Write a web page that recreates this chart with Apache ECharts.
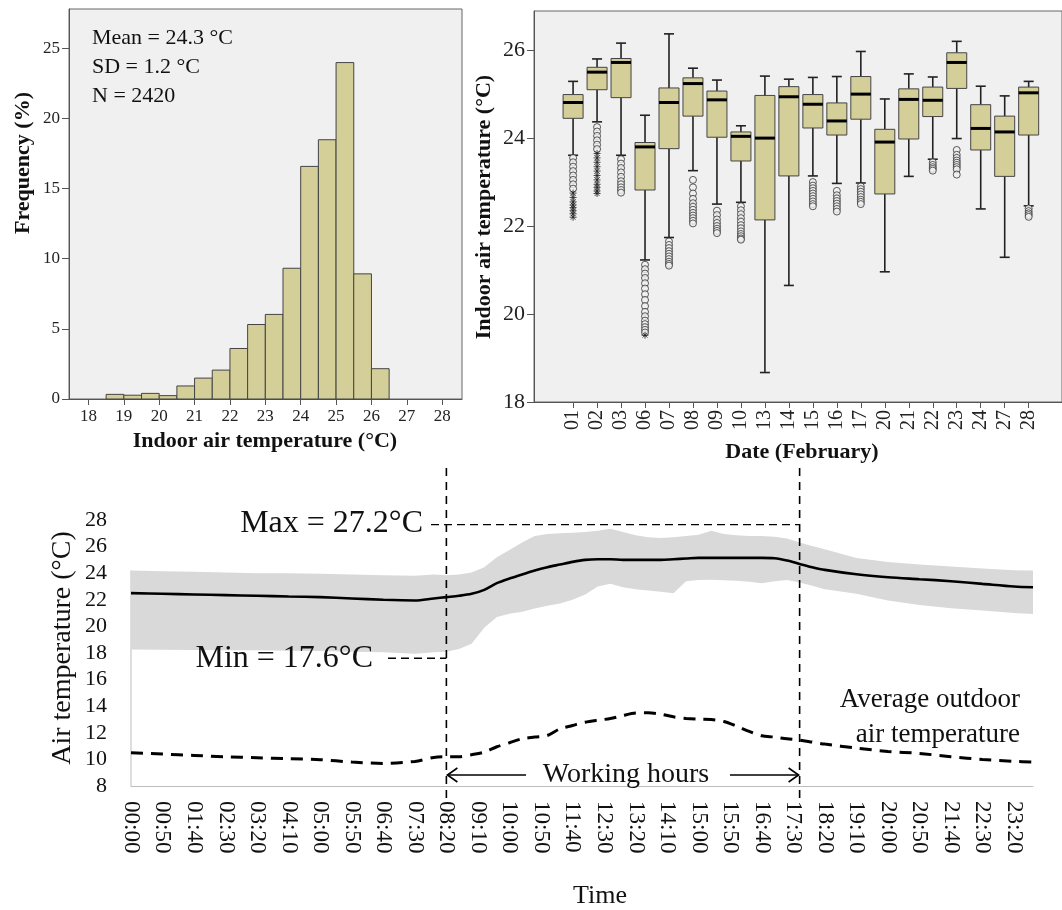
<!DOCTYPE html>
<html>
<head>
<meta charset="utf-8">
<title>Indoor air temperature</title>
<script src="https://cdn.jsdelivr.net/npm/echarts@6/dist/echarts.min.js"></script>
<style>
  html, body { margin: 0; padding: 0; background: #fff; }
  #main { width: 1062px; height: 910px; }
</style>
</head>
<body>
<div id="main"></div>
<script>
var serif = "'Liberation Serif', 'Times New Roman', serif";
var tan = '#d4cf98';

// histogram (% of readings per 0.5 °C bin)
var binStart = [18.5, 19, 19.5, 20, 20.5, 21, 21.5, 22, 22.5, 23, 23.5, 24, 24.5, 25, 25.5, 26];
var binFreq = [0.33, 0.27, 0.4, 0.24, 0.93, 1.49, 2.06, 3.6, 5.31, 6.03, 9.32, 16.58, 18.48, 23.98, 8.92, 2.16];
var binWidth = 0.5;
var histTicks = [18, 19, 20, 21, 22, 23, 24, 25, 26, 27, 28];
var freqTicks = [0, 5, 10, 15, 20, 25];

// box plot per day
var dates = ['01', '02', '03', '06', '07', '08', '09', '10', '13', '14', '15', '16', '17', '20', '21', '22', '23', '24', '27', '28'];
var whiskLow = [23.61, 24.37, 23.61, 21.23, 21.74, 23.26, 22.5, 22.54, 18.67, 20.65, 23.14, 22.97, 22.98, 20.96, 23.13, 23.52, 23.99, 22.39, 21.29, 22.46];
var q1 = [24.45, 25.1, 24.92, 22.82, 23.76, 24.5, 24.02, 23.48, 22.14, 23.14, 24.23, 24.07, 24.43, 22.73, 23.98, 24.49, 25.13, 23.73, 23.13, 24.07];
var median = [24.81, 25.5, 25.72, 23.8, 24.81, 25.24, 24.87, 24.04, 24.0, 24.94, 24.77, 24.39, 25.0, 23.91, 24.88, 24.86, 25.72, 24.22, 24.14, 25.03];
var q3 = [24.99, 25.61, 25.81, 23.9, 25.14, 25.37, 25.07, 24.14, 24.97, 25.17, 24.99, 24.8, 25.4, 24.2, 25.12, 25.16, 25.94, 24.76, 24.5, 25.16];
var whiskHigh = [25.29, 25.8, 26.16, 24.52, 26.37, 25.59, 25.32, 24.28, 25.41, 25.34, 25.38, 25.4, 25.97, 24.89, 25.46, 25.39, 26.2, 25.18, 24.96, 25.29];
var outliers = [
  [23.55, 23.45, 23.35, 23.25, 23.15, 23.05, 22.95, 22.85],
  [24.25, 24.15, 24.05, 23.95, 23.85, 23.75],
  [23.52, 23.42, 23.32, 23.22, 23.12, 23.02, 22.95, 22.88, 22.82, 22.76],
  [21.12, 21.02, 20.92, 20.82, 20.7, 20.58, 20.45, 20.32, 20.18, 20.05, 19.95, 19.85, 19.77, 19.7, 19.64, 19.58],
  [21.65, 21.57, 21.5, 21.43, 21.37, 21.31, 21.25, 21.19, 21.14, 21.1],
  [23.05, 22.88, 22.74, 22.62, 22.52, 22.44, 22.37, 22.3, 22.24, 22.18, 22.12, 22.06],
  [22.35, 22.25, 22.15, 22.07, 22.0, 21.94, 21.89, 21.84],
  [22.45, 22.36, 22.27, 22.18, 22.1, 22.02, 21.95, 21.88, 21.82, 21.77, 21.72, 21.69],
  [],
  [],
  [23.0, 22.92, 22.86, 22.8, 22.74, 22.68, 22.62, 22.56, 22.5, 22.45],
  [22.8, 22.7, 22.63, 22.57, 22.51, 22.45, 22.39, 22.33],
  [22.9, 22.84, 22.78, 22.72, 22.66, 22.6, 22.55, 22.5],
  [],
  [],
  [23.45, 23.39, 23.34, 23.3, 23.26],
  [23.73, 23.62, 23.55, 23.49, 23.44, 23.39, 23.34, 23.29, 23.17],
  [],
  [],
  [22.4, 22.34, 22.29, 22.25, 22.21]
];
var extremes = [
  [22.75, 22.65, 22.55, 22.48, 22.42, 22.35, 22.28, 22.2],
  [23.65, 23.55, 23.45, 23.35, 23.25, 23.15, 23.05, 22.95, 22.88, 22.8, 22.74],
  [], [19.52], [], [], [], [], [], [], [], [], [], [], [], [], [], [], [], []
];
var boxTicks = [18, 20, 22, 24, 26];
var dayTicks = dates.map(function (d, i) { return i; });

// daily profile, 10-minute steps
var times = [];
for (var m = 0; m < 24 * 60; m += 10) {
  var hh = Math.floor(m / 60), mm = m % 60;
  times.push((hh < 10 ? '0' : '') + hh + ':' + (mm < 10 ? '0' : '') + mm);
}
var sampleSteps = [0, 5, 10, 15, 20, 25, 30, 35, 40, 45, 48,
  50, 52, 54, 56, 58, 60, 62, 64, 66, 68, 70, 72, 74, 76, 78, 80, 82, 84, 86, 88,
  90, 92, 94, 96, 98, 100, 102, 104, 106, 108, 110,
  115, 120, 125, 130, 135, 140, 143];
var meanT = [22.5, 22.45, 22.4, 22.35, 22.3, 22.25, 22.2, 22.1, 22.0, 21.95, 22.1,
  22.2, 22.3, 22.45, 22.75, 23.25, 23.6, 23.9, 24.2, 24.45, 24.65, 24.85, 25.0, 25.05, 25.05, 25.0, 25.0, 25.0, 25.0, 25.05, 25.1,
  25.15, 25.15, 25.15, 25.15, 25.15, 25.15, 25.12, 24.95, 24.7, 24.45, 24.25,
  23.92, 23.7, 23.55, 23.4, 23.2, 23.0, 22.94];
var upperT = [24.2, 24.15, 24.1, 24.05, 24.0, 24.0, 23.95, 23.9, 23.85, 23.8, 23.9,
  23.85, 23.9, 24.05, 24.45, 25.2, 25.75, 26.3, 26.8, 26.95, 27.0, 27.05, 27.1, 27.2, 27.35, 27.1, 26.85, 26.7, 26.65, 26.7, 26.8,
  26.9, 27.2, 26.95, 26.85, 26.8, 26.8, 26.75, 26.6, 26.3, 26.05, 25.8,
  25.15, 24.85, 24.65, 24.5, 24.35, 24.22, 24.2];
var lowerT = [18.27, 18.25, 18.22, 18.2, 18.2, 18.17, 18.15, 18.1, 18.05, 17.95, 18.05,
  18.1, 18.3, 18.7, 19.9, 20.7, 20.95, 21.1, 21.35, 21.55, 21.73, 22.0, 22.4, 23.0, 23.2, 22.95, 22.8, 22.7, 22.6, 22.5, 23.4,
  23.48, 23.5, 23.47, 23.44, 23.35, 23.24, 23.4, 23.48, 23.3, 23.05, 22.8,
  22.45, 21.95, 21.6, 21.36, 21.2, 21.0, 20.93];
var outdoorT = [10.5, 10.4, 10.3, 10.2, 10.12, 10.05, 9.98, 9.8, 9.7, 9.85, 10.15,
  10.2, 10.2, 10.35, 10.55, 10.95, 11.25, 11.55, 11.68, 11.8, 12.3, 12.55, 12.8, 12.95, 13.07, 13.3, 13.48, 13.5, 13.4, 13.2, 13.08,
  13.02, 13.0, 12.85, 12.5, 12.1, 11.78, 11.68, 11.55, 11.45, 11.3, 11.15,
  10.85, 10.6, 10.45, 10.2, 10.0, 9.85, 9.8];
var workStart = '08:20', workEnd = '17:40';
var maxLineAt = 27.65, minLineAt = 17.6;

function pairs(vals) {
  return sampleSteps.map(function (s, i) { return [times[s], vals[i]]; });
}

function renderBin(params, api) {
  var p0 = api.coord([api.value(0), api.value(2)]);
  var p1 = api.coord([api.value(1), 0]);
  return {
    type: 'rect',
    shape: { x: p0[0], y: p0[1], width: p1[0] - p0[0], height: p1[1] - p0[1] },
    style: { fill: tan, stroke: '#444', lineWidth: 1 }
  };
}

function renderBox(params, api) {
  var i = api.value(0);
  var lo = api.coord([i, api.value(1)]);
  var b1 = api.coord([i, api.value(2)]);
  var md = api.coord([i, api.value(3)]);
  var b3 = api.coord([i, api.value(4)]);
  var hi = api.coord([i, api.value(5)]);
  var x = lo[0], hw = 10, cw = 5;
  var st = { stroke: '#222', lineWidth: 1.6 };
  return {
    type: 'group',
    children: [
      { type: 'line', shape: { x1: x, y1: hi[1], x2: x, y2: b3[1] }, style: st },
      { type: 'line', shape: { x1: x, y1: b1[1], x2: x, y2: lo[1] }, style: st },
      { type: 'line', shape: { x1: x - cw, y1: hi[1], x2: x + cw, y2: hi[1] }, style: st },
      { type: 'line', shape: { x1: x - cw, y1: lo[1], x2: x + cw, y2: lo[1] }, style: st },
      { type: 'rect', shape: { x: x - hw, y: b3[1], width: hw * 2, height: b1[1] - b3[1] }, style: { fill: tan, stroke: '#444', lineWidth: 1 } },
      { type: 'line', shape: { x1: x - hw, y1: md[1], x2: x + hw, y2: md[1] }, style: { stroke: '#000', lineWidth: 3 } }
    ]
  };
}

function flat(list) {
  var out = [];
  list.forEach(function (vals, i) { vals.forEach(function (v) { out.push([i, v]); }); });
  return out;
}

var axisGrey = { color: '#555', width: 1 };

var option = {
  animation: false,
  backgroundColor: '#fff',
  textStyle: { fontFamily: serif },
  grid: [
    { left: 69, top: 9, width: 393, height: 390, show: true, backgroundColor: '#f0f0f0', borderColor: '#666', borderWidth: 1 },
    { left: 534, top: 11, width: 530, height: 391, show: true, backgroundColor: '#f0f0f0', borderColor: '#666', borderWidth: 1 },
    { left: 131, top: 520, width: 902, height: 266 }
  ],
  xAxis: [
    {
      gridIndex: 0, type: 'value', min: 17.45, max: 28.56,
      axisLine: { show: true, onZero: false, lineStyle: axisGrey },
      axisTick: { show: true, customValues: histTicks, length: 6, lineStyle: axisGrey },
      axisLabel: { customValues: histTicks, fontFamily: serif, fontSize: 17, color: '#222', margin: 9 },
      splitLine: { show: false }
    },
    {
      gridIndex: 1, type: 'value', min: -1.63, max: 20.39,
      axisLine: { show: true, onZero: false, lineStyle: axisGrey },
      axisTick: { show: true, customValues: dayTicks, length: 6, lineStyle: axisGrey },
      axisLabel: {
        customValues: dayTicks, rotate: 90, fontFamily: serif, fontSize: 20, color: '#222', margin: 8,
        formatter: function (v) { return dates[Math.round(v)]; }
      },
      splitLine: { show: false }
    },
    {
      gridIndex: 2, type: 'category', data: times, boundaryGap: false,
      axisLine: { show: true, onZero: false, lineStyle: { color: '#bdbdbd', width: 1 } },
      axisTick: { show: false },
      axisLabel: { interval: 4, rotate: -90, fontFamily: serif, fontSize: 23, color: '#111', margin: 15 },
      splitLine: { show: false }
    }
  ],
  yAxis: [
    {
      gridIndex: 0, type: 'value', min: 0, max: 27.8,
      axisLine: { show: true, onZero: false, lineStyle: axisGrey },
      axisTick: { show: true, customValues: freqTicks, length: 7, lineStyle: axisGrey },
      axisLabel: { customValues: freqTicks, fontFamily: serif, fontSize: 17, color: '#222', margin: 9 },
      splitLine: { show: false }
    },
    {
      gridIndex: 1, type: 'value', min: 18, max: 26.89,
      axisLine: { show: true, onZero: false, lineStyle: axisGrey },
      axisTick: { show: true, customValues: boxTicks, length: 7, lineStyle: axisGrey },
      axisLabel: { customValues: boxTicks, fontFamily: serif, fontSize: 22, color: '#222', margin: 9 },
      splitLine: { show: false }
    },
    {
      gridIndex: 2, type: 'value', min: 8, max: 28, interval: 2,
      axisLine: { show: false },
      axisTick: { show: false },
      axisLabel: { fontFamily: serif, fontSize: 22, color: '#111', margin: 24 },
      splitLine: { show: false }
    }
  ],
  series: [
    {
      name: 'histogram', type: 'custom', xAxisIndex: 0, yAxisIndex: 0,
      renderItem: renderBin, encode: { x: [0, 1], y: 2 },
      data: binStart.map(function (s, i) { return [s, s + binWidth, binFreq[i]]; })
    },
    {
      name: 'daily box', type: 'custom', xAxisIndex: 1, yAxisIndex: 1,
      renderItem: renderBox, encode: { x: 0, y: [1, 2, 3, 4, 5] },
      data: dates.map(function (d, i) { return [i, whiskLow[i], q1[i], median[i], q3[i], whiskHigh[i]]; })
    },
    {
      name: 'outliers', type: 'scatter', xAxisIndex: 1, yAxisIndex: 1, z: 4,
      symbol: 'circle', symbolSize: 7,
      itemStyle: { color: '#f0f0f0', borderColor: '#333', borderWidth: 1 },
      data: flat(outliers)
    },
    {
      name: 'extremes', type: 'scatter', xAxisIndex: 1, yAxisIndex: 1, z: 4,
      symbol: 'path://M5,0L5,10M0,5L10,5M1.5,1.5L8.5,8.5M8.5,1.5L1.5,8.5', symbolSize: 7,
      itemStyle: { color: 'none', borderColor: '#222', borderWidth: 1 },
      data: flat(extremes)
    },
    {
      name: 'lower', type: 'line', xAxisIndex: 2, yAxisIndex: 2, stack: 'band',
      symbol: 'none', lineStyle: { width: 0, opacity: 0 },
      data: pairs(lowerT)
    },
    {
      name: 'range', type: 'line', xAxisIndex: 2, yAxisIndex: 2, stack: 'band',
      symbol: 'none', lineStyle: { width: 0, opacity: 0 },
      areaStyle: { color: '#d9d9d9', opacity: 1 },
      data: sampleSteps.map(function (s, i) { return [times[s], +(upperT[i] - lowerT[i]).toFixed(2)]; })
    },
    {
      name: 'mean indoor', type: 'line', xAxisIndex: 2, yAxisIndex: 2,
      symbol: 'none', smooth: 0.3, lineStyle: { color: '#000', width: 2.6 },
      data: pairs(meanT)
    },
    {
      name: 'outdoor', type: 'line', xAxisIndex: 2, yAxisIndex: 2,
      symbol: 'none', smooth: 0.3, lineStyle: { color: '#000', width: 3, type: [12, 8] },
      data: pairs(outdoorT)
    }
  ]
};

var chart = echarts.init(document.getElementById('main'));
chart.setOption(option);

// annotations placed from the bottom chart's own scales
function at(t, v) {
  return chart.convertToPixel({ gridIndex: 2 }, [times.indexOf(t), v]);
}
var xs = at(workStart, 8)[0];
var xe = at(workEnd, 8)[0];
var yBase = at(workStart, 8)[1];
var yMax = at(workEnd, maxLineAt)[1];
var yMin = at(workStart, minLineAt)[1];
var axisLeft = at(times[0], 8)[0];
var bandTop = at(times[0], upperT[0])[1];
var dashV = { stroke: '#000', lineWidth: 1.6, lineDash: [8, 6] };
var dashH = { stroke: '#000', lineWidth: 1.4, lineDash: [8, 5] };
var solid = { stroke: '#000', lineWidth: 1.6, fill: null };

function txt(x, y, text, size, opts) {
  opts = opts || {};
  return {
    type: 'text', x: x, y: y, rotation: opts.rot || 0, z: 100,
    style: {
      text: text, fill: '#111', fontFamily: serif, fontSize: size,
      fontWeight: opts.bold ? 'bold' : 'normal',
      align: opts.align || 'center', verticalAlign: 'middle'
    }
  };
}

chart.setOption({
  graphic: [
    txt(92, 38, 'Mean = 24.3 °C', 22, { align: 'left' }),
    txt(92, 67, 'SD = 1.2 °C', 22, { align: 'left' }),
    txt(92, 96, 'N = 2420', 22, { align: 'left' }),
    txt(23, 163, 'Frequency (%)', 22, { bold: true, rot: Math.PI / 2 }),
    txt(265, 441, 'Indoor air temperature (°C)', 22, { bold: true }),
    txt(484, 207, 'Indoor air temperature (°C)', 22, { bold: true, rot: Math.PI / 2 }),
    txt(802, 452, 'Date (February)', 22, { bold: true }),
    txt(63, 648, 'Air temperature (°C)', 28, { rot: Math.PI / 2 }),
    txt(600, 896, 'Time', 26),
    txt(423, yMax - 1, 'Max = 27.2°C', 32, { align: 'right' }),
    txt(373, yMin, 'Min = 17.6°C', 32, { align: 'right' }),
    txt(626, 775, 'Working hours', 28),
    txt(1020, 700, 'Average outdoor', 27, { align: 'right' }),
    txt(1020, 735, 'air temperature', 27, { align: 'right' }),
    { type: 'line', z: 1, shape: { x1: axisLeft, y1: bandTop, x2: axisLeft, y2: yBase }, style: { stroke: '#bdbdbd', lineWidth: 1 } },
    { type: 'line', z: 90, shape: { x1: xs, y1: 468, x2: xs, y2: yBase + 12 }, style: dashV },
    { type: 'line', z: 90, shape: { x1: xe, y1: 468, x2: xe, y2: yBase + 12 }, style: dashV },
    { type: 'line', z: 90, shape: { x1: 431, y1: yMax, x2: xe, y2: yMax }, style: dashH },
    { type: 'line', z: 90, shape: { x1: 388, y1: yMin, x2: xs, y2: yMin }, style: dashH },
    { type: 'line', z: 90, shape: { x1: xs + 1, y1: 775, x2: 526, y2: 775 }, style: solid },
    { type: 'polyline', z: 90, shape: { points: [[xs + 11, 768], [xs + 1, 775], [xs + 11, 782]] }, style: solid },
    { type: 'line', z: 90, shape: { x1: 730, y1: 775, x2: xe - 1, y2: 775 }, style: solid },
    { type: 'polyline', z: 90, shape: { points: [[xe - 11, 768], [xe - 1, 775], [xe - 11, 782]] }, style: solid }
  ]
});
</script>
</body>
</html>
